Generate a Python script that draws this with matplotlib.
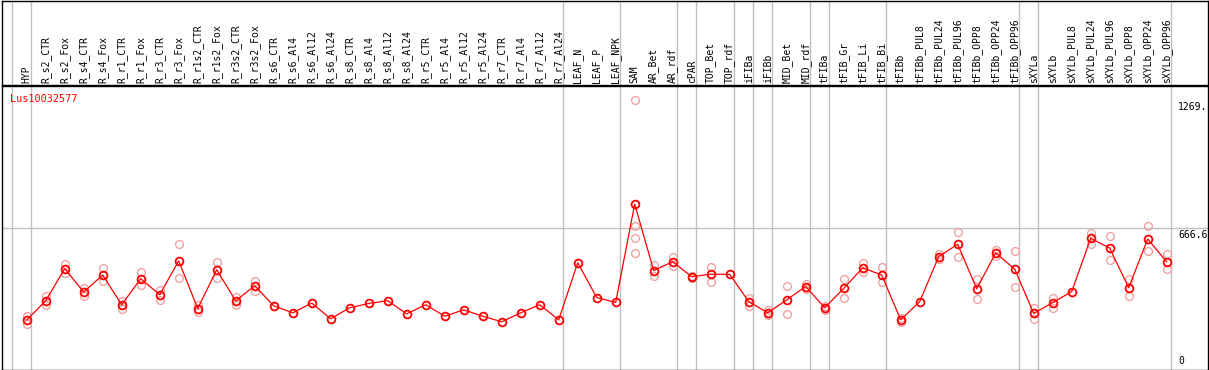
import numpy as np
import matplotlib
matplotlib.use('Agg')
from matplotlib import pyplot as plt

# sample names (one column each)
samples = ['HYP', 'R_s2_CTR', 'R_s2_Fox', 'R_s4_CTR', 'R_s4_Fox', 'R_r1_CTR', 'R_r1_Fox',
           'R_r3_CTR', 'R_r3_Fox', 'R_r1s2_CTR', 'R_r1s2_Fox', 'R_r3s2_CTR', 'R_r3s2_Fox',
           'R_s6_CTR', 'R_s6_Al4', 'R_s6_Al12', 'R_s6_Al24', 'R_s8_CTR', 'R_s8_Al4',
           'R_s8_Al12', 'R_s8_Al24', 'R_r5_CTR', 'R_r5_Al4', 'R_r5_Al12', 'R_r5_Al24',
           'R_r7_CTR', 'R_r7_Al4', 'R_r7_Al12', 'R_r7_Al24', 'LEAF_N', 'LEAF_P', 'LEAF_NPK',
           'SAM', 'AR_Bet', 'AR_rdf', 'cPAR', 'TOP_Bet', 'TOP_rdf', 'iFIBa', 'iFIBb',
           'MID_Bet', 'MID_rdf', 'tFIBa', 'tFIB_Gr', 'tFIB_Li', 'tFIB_Bi', 'tFIBb',
           'tFIBb_PUL8', 'tFIBb_PUL24', 'tFIBb_PUL96', 'tFIBb_OPP8', 'tFIBb_OPP24',
           'tFIBb_OPP96', 'sXYLa', 'sXYLb', 'sXYLb_PUL8', 'sXYLb_PUL24', 'sXYLb_PUL96',
           'sXYLb_OPP8', 'sXYLb_OPP24', 'sXYLb_OPP96']

# mean expression per sample
means = [233, 324, 475, 365, 445, 305, 428, 352, 512, 287, 470, 323, 395,
         300, 267, 313, 239, 291, 311, 324, 262, 305, 251, 281, 251, 225, 267, 305, 234,
         503, 339, 316,
         779, 466, 508, 437, 449, 448, 320, 267, 328, 391, 291, 382, 479, 445, 234,
         320, 532, 590, 380, 549, 473, 264, 315, 367, 618, 572, 385, 615, 507]

# individual replicates (empty = only one value)
reps = [[254, 212], [345, 303], [496, 454], [385, 345], [476, 415], [325, 284],
        [457, 399], [375, 328], [592, 432], [302, 273], [507, 432], [341, 305],
        [419, 371],
        [], [], [], [], [], [], [], [], [], [], [], [], [], [], [], [],
        [], [], [],
        [1269, 677, 620, 551], [493, 440], [529, 487], [441, 432], [485, 413], [],
        [339, 300], [278, 256], [394, 262], [405, 377], [300, 281], [425, 338],
        [500, 458], [481, 410], [244, 225],
        [], [542, 521], [649, 531], [427, 333], [564, 534], [556, 390], [291, 237],
        [339, 291], [], [644, 592], [627, 518], [424, 345], [674, 556], [542, 473]]

# group separators come after these columns
sep_after = [-1, 0, 28, 31, 34, 35, 37, 38, 39, 41, 42, 45, 52, 53, 60]

gene = 'Lus10032577'
ymax = 1333.2
ytick_vals = [1269, 666.6, 0]
ytick_labels = ['1269.', '666.6', '0']

W, H = 1209, 370
fig = plt.figure(figsize=(W / 100, H / 100), dpi=100)
mono = 'DejaVu Sans Mono'

# x limits so column i sits at pixel 26.7 + 19*i
left_px, right_px = 1.5, 1207.5
xlim = ((left_px - 26.7) / 19, (right_px - 26.7) / 19)

ax_h = fig.add_axes([left_px / W, 1 - 85 / H, (right_px - left_px) / W, 84.5 / H])
ax = fig.add_axes([left_px / W, 0.5 / H, (right_px - left_px) / W, (369 - 85) / H])

for a in (ax, ax_h):
    a.set_xlim(*xlim)
    a.set_xticks([])
    a.set_yticks([])
    for s in a.spines.values():
        s.set_color('black')
        s.set_linewidth(1.0)
    for k in sep_after:
        a.axvline(k + 4 / 19, color='#c0c0c0', lw=1.0, zorder=0)

ax_h.set_ylim(0, 1)
for i, name in enumerate(samples):
    ax_h.text(i, 0.025, name, rotation=90, ha='center', va='bottom',
              fontsize=7, family=mono)

ax.set_ylim(0, ymax * 284 / 283)
ax.axhline(666.6, color='#c0c0c0', lw=1.0, zorder=0)

x = np.arange(len(samples))
for i, r in enumerate(reps):
    if r:
        ax.plot([i] * len(r), r, 'o', ms=5.6, mfc='none', mec='#f09a9a', mew=0.9, zorder=2)
ax.plot(x, means, '-', color='red', lw=0.9, zorder=3)
ax.plot(x, means, 'o', ms=5.6, mfc='none', mec='red', mew=1.3, zorder=4)

xl = (1178 - 26.7) / 19
for v, lab in zip(ytick_vals, ytick_labels):
    if v == 0:
        ax.annotate(lab, (xl, v), xytext=(0, 3), textcoords='offset pixels',
                    ha='left', va='bottom', fontsize=7, family=mono)
    else:
        ax.annotate(lab, (xl, v), xytext=(0, -2), textcoords='offset pixels',
                    ha='left', va='top', fontsize=7, family=mono)

ax.text(10, 369 - 93, gene, transform=None, color='red', fontsize=7.3, family=mono,
        ha='left', va='top')

fig.savefig('out.png', dpi=100)
